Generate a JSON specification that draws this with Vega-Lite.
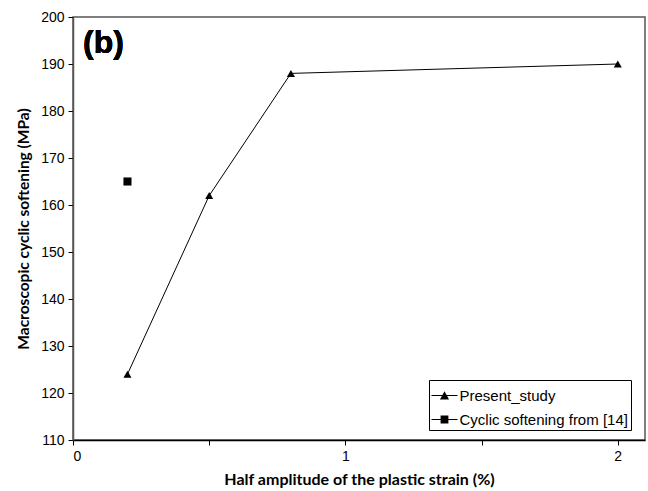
{
  "$schema": "https://vega.github.io/schema/vega-lite/v6.json",
  "width": 572,
  "height": 423,
  "autosize": {"type": "none"},
  "padding": {"left": 73, "top": 17, "right": 3, "bottom": 51},
  "background": "white",
  "config": {
    "view": {"stroke": "#555", "strokeWidth": 1.5},
    "font": "Liberation Sans"
  },
  "data": {
    "values": [
      {"strain": 0.2, "softening": 124, "series": "Present_study"},
      {"strain": 0.5, "softening": 162, "series": "Present_study"},
      {"strain": 0.8, "softening": 188, "series": "Present_study"},
      {"strain": 2.0, "softening": 190, "series": "Present_study"},
      {"strain": 0.2, "softening": 165, "series": "Cyclic softening from [14]"}
    ]
  },
  "encoding": {
    "x": {
      "field": "strain", "type": "quantitative",
      "scale": {"domain": [0, 2.1], "nice": false, "zero": false},
      "axis": {
        "title": "Half amplitude of  the plastic strain (%)",
        "titleFont": "Lato", "titleFontWeight": "bold", "titleFontSize": 16, "titleColor": "black",
        "titlePadding": 8,
        "values": [0, 0.5, 1, 1.5, 2],
        "labelExpr": "datum.value % 1 == 0 ? format(datum.value, 'd') : ''",
        "labelFontSize": 14, "labelColor": "black", "labelPadding": 4,
        "grid": false, "domainColor": "black", "domainWidth": 1.5,
        "tickColor": "black", "tickSize": 5
      }
    },
    "y": {
      "field": "softening", "type": "quantitative",
      "scale": {"domain": [110, 200], "nice": false, "zero": false},
      "axis": {
        "title": "Macroscopic cyclic softening (MPa)",
        "titleFont": "Lato", "titleFontWeight": "bold", "titleFontSize": 15.5, "titleColor": "black",
        "titlePadding": 9,
        "values": [110, 120, 130, 140, 150, 160, 170, 180, 190, 200],
        "labelFontSize": 14, "labelColor": "black", "labelPadding": 4,
        "grid": false, "domainColor": "#555", "domainWidth": 1.5,
        "tickColor": "black", "tickSize": 5
      }
    }
  },
  "layer": [
    {
      "transform": [{"filter": "datum.series == 'Present_study'"}],
      "mark": {"type": "line", "color": "black", "strokeWidth": 1}
    },
    {
      "mark": {"type": "point", "filled": true, "color": "black", "opacity": 1, "size": 65},
      "encoding": {
        "shape": {
          "field": "series", "type": "nominal",
          "scale": {"domain": ["Present_study", "Cyclic softening from [14]"], "range": ["triangle-up", "square"]},
          "legend": null
        }
      }
    },
    {
      "mark": {"type": "point", "filled": true, "color": "black", "opacity": 0},
      "encoding": {
        "shape": {
          "field": "series", "type": "nominal",
          "scale": {
            "domain": ["Present_study", "Cyclic softening from [14]"],
            "range": ["M-1,-0.035H1V0.035H-1ZM-0.35,0.3L0,-0.33L0.35,0.3Z", "M-1,-0.035H1V0.035H-1ZM-0.3,-0.3H0.3V0.3H-0.3Z"]
          },
          "legend": {
            "title": null,
            "orient": "none",
            "legendX": 356,
            "legendY": 363,
            "padding": 2.5,
            "strokeColor": "black",
            "fillColor": "white",
            "symbolSize": 676,
            "symbolStrokeWidth": 0,
            "symbolFillColor": "black",
            "symbolOpacity": 1,
            "labelFontSize": 15,
            "labelLimit": 400,
            "labelColor": "black",
            "labelOffset": 2,
            "rowPadding": 3,
            "encode": {"symbols": {"update": {"opacity": {"value": 1}, "fill": {"value": "black"}, "fillOpacity": {"value": 1}}}}
          }
        }
      }
    },
    {
      "mark": {"type": "text", "text": "(b)", "font": "Liberation Sans", "fontWeight": "bold", "fontSize": 32, "align": "left", "baseline": "alphabetic", "color": "black"},
      "encoding": {
        "x": {"datum": 0.037, "type": "quantitative"},
        "y": {"datum": 192.3, "type": "quantitative"}
      }
    }
  ],
  "resolve": {"scale": {"shape": "independent"}}
}
